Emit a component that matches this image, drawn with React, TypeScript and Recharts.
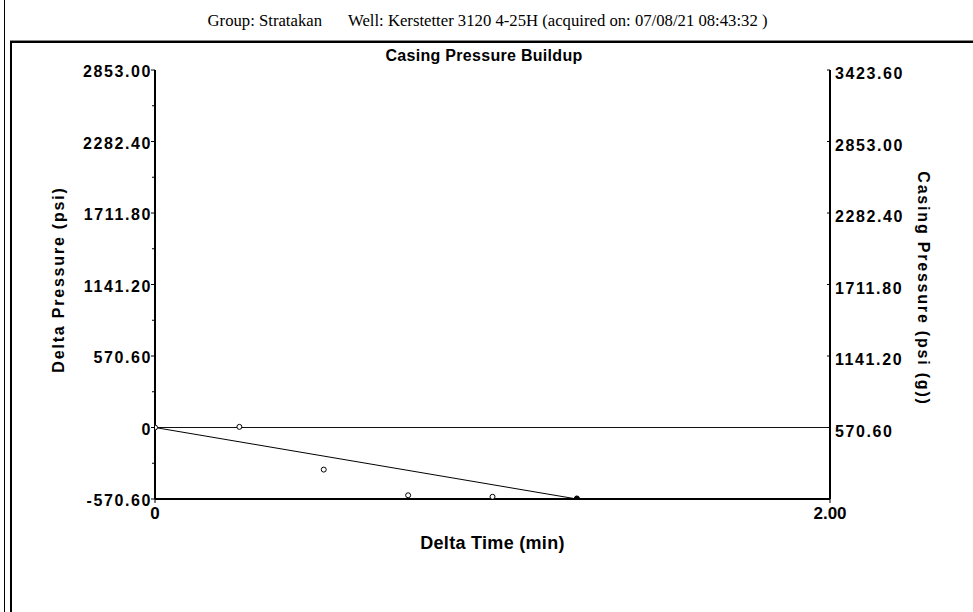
import { ComposedChart, Line, Scatter, XAxis, YAxis, ReferenceLine } from 'recharts'

// casing pressure buildup readings
const timeMin = [0, 0.25, 0.5, 0.75, 1.0, 1.25]
const deltaPsi = [0, 5, -336, -541, -553, -566]

// straight trend drawn through the buildup
const trendTime = [0, 1.25]
const trendPsi = [0, -570.6]

const leftTicks = [-570.6, 0, 570.6, 1141.2, 1711.8, 2282.4, 2853]
const leftTickLabels = ['-570.60', '0', '570.60', '1141.20', '1711.80', '2282.40', '2853.00']
const leftMinorTicks = [-285.3, 285.3, 855.9, 1426.5, 1997.1, 2567.7]
const rightTicks = [570.6, 1141.2, 1711.8, 2282.4, 2853, 3423.6]
const rightTickLabels = ['570.60', '1141.20', '1711.80', '2282.40', '2853.00', '3423.60']
const xTicks = [0, 2]
const xTickLabels = ['0', '2.00']

const points = timeMin.map((t, i) => ({ t, d: deltaPsi[i] }))
const trend = trendTime.map((t, i) => ({ t, d: trendPsi[i] }))

const SANS = '"Liberation Sans", Arial, sans-serif'
const SERIF = '"Liberation Serif", "Times New Roman", serif'

const tickText = { fontFamily: SANS, fontWeight: 700, fontSize: 16, letterSpacing: 1.6, fill: '#000' }
const titleText = { ...tickText, letterSpacing: 1.8 }

const LeftTick = ({ x, y, payload }: any) => {
  const i = leftTicks.indexOf(payload.value)
  const major = i >= 0
  return (
    <g>
      <line x1={x - (major ? 4 : 3)} x2={x} y1={y} y2={y} stroke="#000" strokeWidth={1} />
      {major && (
        <text x={x - 3} y={y + 7} textAnchor="end" style={tickText}>
          {leftTickLabels[i]}
        </text>
      )}
    </g>
  )
}

const RightTick = ({ x, y, payload }: any) => {
  const i = rightTicks.indexOf(payload.value)
  return (
    <g>
      <line x1={x - 3} x2={x} y1={y} y2={y} stroke="#000" strokeWidth={1} />
      <text x={x + 5} y={y + 9} textAnchor="start" style={tickText}>
        {rightTickLabels[i]}
      </text>
    </g>
  )
}

const BottomTick = ({ x, y, payload }: any) => {
  const i = xTicks.indexOf(payload.value)
  return (
    <g>
      <line x1={x} x2={x} y1={y} y2={y + 4} stroke="#000" strokeWidth={1} />
      <text x={x} y={y + 20} textAnchor="middle" style={{ ...tickText, fontSize: 17, letterSpacing: 0 }}>
        {xTickLabels[i]}
      </text>
    </g>
  )
}

const Dot = (props: any) => {
  const { cx, cy, index } = props
  const last = index === points.length - 1
  return <circle cx={cx} cy={cy} r={2.5} fill={last ? '#000' : '#fff'} stroke="#000" strokeWidth={1} />
}

export default function App() {
  return (
    <div style={{ position: 'absolute', left: 0, top: 0, width: 973, height: 612, background: '#fff', overflow: 'hidden' }}>
      <div style={{ position: 'absolute', left: 4, top: 0, width: 1, height: 612, background: '#000' }} />
      <div style={{ position: 'absolute', left: 10, top: 40, right: 0, height: 1, background: '#888' }} />
      <div
        style={{
          position: 'absolute',
          left: 10,
          top: 41,
          width: 980,
          height: 600,
          borderTop: '2px solid #000',
          borderLeft: '2px solid #000',
        }}
      />
      <div
        style={{
          position: 'absolute',
          left: 1,
          top: 11,
          width: 973,
          textAlign: 'center',
          fontFamily: SERIF,
          fontSize: 16.7,
          color: '#000',
          whiteSpace: 'pre',
        }}
      >
        <span>Group: Stratakan</span>
        <span style={{ marginLeft: 26 }}>Well: Kerstetter 3120 4-25H (acquired on: 07/08/21 08:43:32 )</span>
      </div>
      <div
        style={{
          position: 'absolute',
          left: 0,
          top: 47,
          width: 968,
          textAlign: 'center',
          fontFamily: SANS,
          fontWeight: 700,
          fontSize: 16,
          letterSpacing: 0.3,
          color: '#000',
        }}
      >
        Casing Pressure Buildup
      </div>
      <div style={{ position: 'absolute', left: 0, top: 0 }}>
        <ComposedChart width={973} height={612} margin={{ top: 70, right: 83, bottom: 73, left: 95 }}>
          <XAxis
            dataKey="t"
            type="number"
            domain={[0, 2]}
            ticks={xTicks}
            interval={0}
            height={40}
            allowDataOverflow
            axisLine={{ stroke: '#000', strokeWidth: 2 }}
            tickLine={false}
            tickSize={0}
            tickMargin={0}
            tick={<BottomTick />}
            label={{
              value: 'Delta Time (min)',
              position: 'insideBottom',
              offset: -10,
              style: { fontFamily: SANS, fontWeight: 700, fontSize: 18, letterSpacing: 0.3, fill: '#000' },
            }}
          />
          <YAxis
            yAxisId="left"
            type="number"
            domain={[-570.6, 2853]}
            ticks={[...leftTicks, ...leftMinorTicks].sort((a, b) => a - b)}
            interval={0}
            width={60}
            allowDataOverflow
            axisLine={{ stroke: '#000', strokeWidth: 2 }}
            tickLine={false}
            tickSize={0}
            tickMargin={0}
            tick={<LeftTick />}
            label={{
              content: ({ viewBox }: any) => (
                <text
                  x={0}
                  y={0}
                  transform={`translate(${viewBox.x - 31}, ${viewBox.y + viewBox.height / 2 - 5}) rotate(-90)`}
                  textAnchor="middle"
                  style={titleText}
                >
                  Delta Pressure (psi)
                </text>
              ),
            }}
          />
          <YAxis
            yAxisId="right"
            orientation="right"
            type="number"
            domain={[0, 3423.6]}
            ticks={rightTicks}
            interval={0}
            width={60}
            allowDataOverflow
            axisLine={{ stroke: '#000', strokeWidth: 2 }}
            tickLine={false}
            tickSize={0}
            tickMargin={0}
            tick={<RightTick />}
            label={{
              content: ({ viewBox }: any) => (
                <text
                  x={0}
                  y={0}
                  transform={`translate(${viewBox.x + 88}, ${viewBox.y + viewBox.height / 2 + 4}) rotate(90)`}
                  textAnchor="middle"
                  style={titleText}
                >
                  Casing Pressure (psi (g))
                </text>
              ),
            }}
          />
          <ReferenceLine yAxisId="left" y={0} stroke="#111" strokeWidth={1} ifOverflow="extendDomain" />
          <Line
            yAxisId="left"
            data={trend}
            dataKey="d"
            stroke="#000"
            strokeWidth={1}
            dot={false}
            activeDot={false}
            isAnimationActive={false}
          />
          <Scatter yAxisId="left" data={points} dataKey="d" shape={<Dot />} isAnimationActive={false} />
        </ComposedChart>
      </div>
    </div>
  )
}
